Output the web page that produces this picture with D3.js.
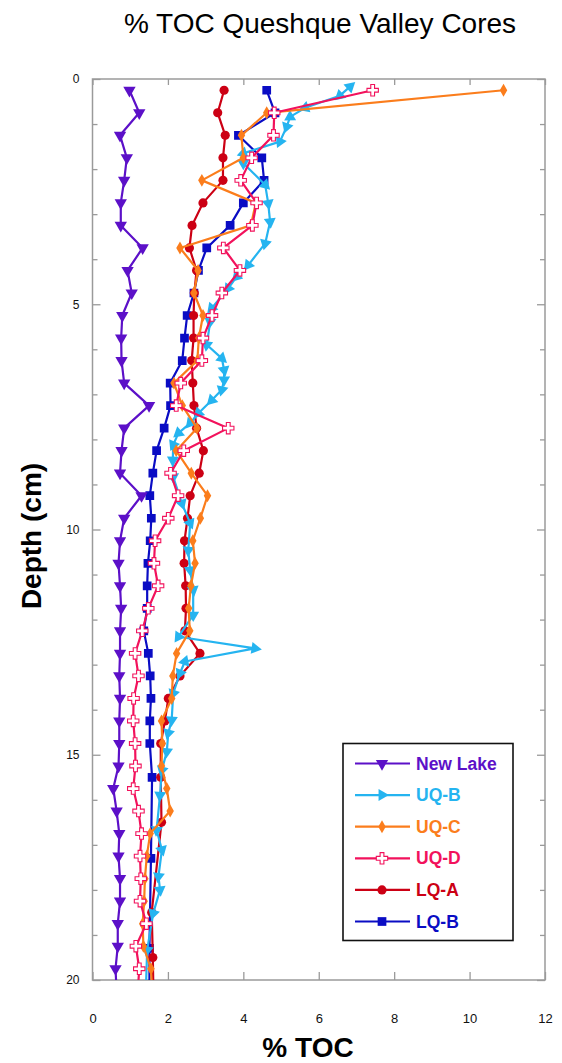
<!DOCTYPE html>
<html>
<head>
<meta charset="utf-8">
<script src="https://cdn.jsdelivr.net/npm/d3@7"></script>
<style>
  html, body { margin: 0; padding: 0; background: #fff; }
  svg { display: block; font-family: "Liberation Sans", Arial, Helvetica, sans-serif; }
</style>
</head>
<body>
<div id="chart"></div>
<script>
// sample depths (cm) shared by most cores, last one sits just below the frame
const gridDepths = [0.25, 0.75, 1.25, 1.75, 2.25, 2.75, 3.25, 3.75, 4.25, 4.75,
  5.25, 5.75, 6.25, 6.75, 7.25, 7.75, 8.25, 8.75, 9.25, 9.75,
  10.25, 10.75, 11.25, 11.75, 12.25, 12.75, 13.25, 13.75, 14.25, 14.75,
  15.25, 15.75, 16.25, 16.75, 17.25, 17.75, 18.25, 18.75, 19.25, 19.75, 20.25];

const newLakeToc = [0.98, 1.24, 0.73, 0.91, 0.84, 0.75, 0.75, 1.33, 0.93, 1.04,
  0.79, 0.76, 0.77, 0.84, 1.50, 0.84, 0.77, 0.73, 1.30, 0.84,
  0.73, 0.69, 0.73, 0.76, 0.73, 0.73, 0.71, 0.73, 0.71, 0.71,
  0.69, 0.55, 0.64, 0.71, 0.69, 0.73, 0.73, 0.67, 0.67, 0.61, 0.64];

const uqCToc = [10.9, 4.62, 3.95, 4.0, 2.90, 4.33, 4.2, 2.32, 2.80, 2.69,
  2.93, 2.82, 2.78, 2.16, 2.38, 2.77, 2.22, 2.62, 3.05, 2.86,
  2.66, 2.72, 2.61, 2.55, 2.58, 2.23, 2.13, 2.10, 1.83, 1.85,
  1.83, 1.97, 2.06, 1.53, 1.44, 1.39, 1.37, 1.33, 1.35, 1.55, 1.58];

const uqDToc = [7.43, 4.82, 4.80, 4.22, 3.93, 4.35, 4.24, 3.47, 3.91, 3.43,
  3.17, 2.93, 2.90, 2.34, 2.22, 3.60, 2.42, 2.07, 2.27, 2.01,
  1.66, 1.63, 1.74, 1.48, 1.32, 1.13, 1.22, 1.09, 1.08, 1.13,
  1.14, 1.08, 1.22, 1.30, 1.26, 1.28, 1.26, 1.43, 1.15, 1.24, 1.20];

const lqADepths = gridDepths.slice(0, 30).concat([15.5, 16.5, 18.5, 19.5, 20.5]);
const lqAToc = [3.49, 3.32, 3.52, 3.46, 3.46, 2.93, 2.64, 2.57, 2.76, 2.70,
  2.68, 2.68, 2.63, 2.66, 2.69, 2.76, 2.94, 2.83, 2.59, 2.52,
  2.44, 2.43, 2.47, 2.48, 2.45, 2.85, 2.32, 2.01, 1.92, 1.81,
  1.81, 1.83, 1.57, 1.60, 1.62];

const lqBDepths = gridDepths.slice(0, 30).concat([15.5, 17.3, 19.3, 20.5]);
const lqBToc = [4.62, 4.84, 3.87, 4.49, 4.55, 4.0, 3.65, 3.03, 2.81, 2.69,
  2.51, 2.44, 2.38, 2.06, 2.07, 1.90, 1.70, 1.60, 1.52, 1.56,
  1.53, 1.47, 1.45, 1.45, 1.36, 1.48, 1.53, 1.55, 1.52, 1.52,
  1.58, 1.55, 1.51, 1.51];

const uqBDepths = [0.17, 0.37, 0.64, 0.84, 1.06, 1.39, 1.65, 1.87, 2.35, 2.76,
  3.17, 3.65, 4.13, 4.39, 4.65, 5.09, 5.39, 5.9, 6.2, 6.46,
  6.68, 6.9, 7.13, 7.42, 7.64, 7.86, 8.12, 8.46, 8.83, 9.42,
  9.86, 10.46, 10.9, 11.34, 11.9, 12.38, 12.64, 12.93, 13.19, 13.64,
  14.23, 14.52, 14.93, 15.34, 15.9, 16.67, 17.11, 17.7, 18.0, 18.52, 19.33, 20.1];
const uqBToc = [6.83, 6.56, 5.64, 5.24, 5.15, 4.97, 4.0, 4.0, 4.58, 4.66,
  4.71, 4.58, 4.13, 3.82, 3.6, 3.16, 3.12, 3.03, 3.43, 3.49,
  3.49, 3.43, 3.16, 2.81, 2.59, 2.28, 2.14, 2.13, 2.14, 2.37,
  2.59, 2.54, 2.59, 2.67, 2.67, 2.28, 4.31, 2.45, 2.32, 2.14,
  2.1, 2.01, 1.97, 1.84, 1.79, 1.7, 1.84, 1.75, 1.79, 1.61, 1.45, 1.42];

const xTicks = [0, 2, 4, 6, 8, 10, 12];
const yTicks = [0, 5, 10, 15, 20];

const zip = (depths, toc) => depths.map((d, i) => ({ depth: d, toc: toc[i] }));

// drawn bottom to top
const series = [
  { name: 'LQ-B', color: '#0a0cc4', shape: 'square', values: zip(lqBDepths, lqBToc) },
  { name: 'LQ-A', color: '#cc0014', shape: 'circle', values: zip(lqADepths, lqAToc) },
  { name: 'UQ-B', color: '#25b4f0', shape: 'arrow', values: zip(uqBDepths, uqBToc) },
  { name: 'UQ-C', color: '#fb7d1c', shape: 'diamond', values: zip(gridDepths, uqCToc) },
  { name: 'UQ-D', color: '#f2125c', shape: 'cross', values: zip(gridDepths, uqDToc) },
  { name: 'New Lake', color: '#5c10c8', shape: 'down', values: zip(gridDepths, newLakeToc) },
];
const legendOrder = ['New Lake', 'UQ-B', 'UQ-C', 'UQ-D', 'LQ-A', 'LQ-B'];

const width = 562;
const height = 1063;
const margin = { top: 79, right: 17, bottom: 83, left: 92.5 };

const xScale = d3.scaleLinear().domain([0, 12]).range([margin.left, width - margin.right]);
const yScale = d3.scaleLinear().domain([0, 20]).range([margin.top, height - margin.bottom]);

const svg = d3.select('#chart').append('svg')
  .attr('width', width)
  .attr('height', height);

svg.append('defs').append('clipPath').attr('id', 'plot-clip')
  .append('rect')
  .attr('x', xScale(0)).attr('y', yScale(0))
  .attr('width', xScale(12) - xScale(0))
  .attr('height', yScale(20) - yScale(0));

// title and axis labels
svg.append('text')
  .attr('x', 320).attr('y', 33)
  .attr('text-anchor', 'middle')
  .attr('font-size', 28)
  .text('% TOC Queshque Valley Cores');

svg.append('text')
  .attr('x', 308).attr('y', 1057)
  .attr('text-anchor', 'middle')
  .attr('font-size', 28).attr('font-weight', 'bold')
  .text('% TOC');

svg.append('text')
  .attr('transform', 'translate(41,536) rotate(-90)')
  .attr('text-anchor', 'middle')
  .attr('font-size', 28).attr('font-weight', 'bold')
  .text('Depth (cm)');

// axes, ticks point inward
const gridColor = '#9a9a9a';
const styleAxis = (g) => {
  g.select('.domain').remove();
  g.selectAll('.tick line').attr('stroke', gridColor).attr('stroke-width', 1.3);
  g.selectAll('.tick text').attr('fill', '#111').attr('font-family', '"Liberation Sans", Arial, sans-serif');
};

svg.append('g')
  .attr('transform', `translate(0,${yScale(20)})`)
  .call(d3.axisBottom(xScale).tickValues(xTicks).tickSize(-8).tickPadding(34).tickFormat(d3.format('d')))
  .call(styleAxis)
  .selectAll('text').attr('font-size', 13);

svg.append('g')
  .attr('transform', `translate(0,${yScale(0)})`)
  .call(d3.axisTop(xScale).tickValues(xTicks).tickSize(-6).tickFormat(''))
  .call(styleAxis);

const minorDepths = d3.range(1, 20).filter((d) => d % 5 !== 0);

svg.append('g')
  .attr('transform', `translate(${xScale(0)},0)`)
  .call(d3.axisLeft(yScale).tickValues(yTicks).tickSize(-8).tickPadding(13).tickFormat(d3.format('d')))
  .call(styleAxis)
  .selectAll('text').attr('font-size', 12);

svg.append('g')
  .attr('transform', `translate(${xScale(0)},0)`)
  .call(d3.axisLeft(yScale).tickValues(minorDepths).tickSize(-5).tickFormat(''))
  .call(styleAxis);

svg.append('g')
  .attr('transform', `translate(${xScale(12)},0)`)
  .call(d3.axisRight(yScale).tickValues(yTicks).tickSize(-8).tickFormat(''))
  .call(styleAxis);

svg.append('g')
  .attr('transform', `translate(${xScale(12)},0)`)
  .call(d3.axisRight(yScale).tickValues(minorDepths).tickSize(-5).tickFormat(''))
  .call(styleAxis);

svg.append('rect')
  .attr('x', xScale(0)).attr('y', yScale(0))
  .attr('width', xScale(12) - xScale(0))
  .attr('height', yScale(20) - yScale(0))
  .attr('fill', 'none')
  .attr('stroke', gridColor)
  .attr('stroke-width', 1.5);

// markers
const symbolFor = {
  square: d3.symbol().type(d3.symbolSquare).size(76),
  circle: d3.symbol().type(d3.symbolCircle).size(66),
  arrow: d3.symbol().type(d3.symbolTriangle).size(62),
  diamond: d3.symbol().type(d3.symbolDiamond).size(48),
  cross: d3.symbol().type(d3.symbolCross).size(72),
  down: d3.symbol().type(d3.symbolTriangle).size(66),
};

function drawMarker(sel, s, x, y, angle) {
  const path = sel.append('path')
    .attr('d', symbolFor[s.shape]())
    .attr('transform', `translate(${x},${y}) rotate(${angle})`);
  if (s.shape === 'cross') {
    path.attr('fill', '#fff').attr('stroke', s.color).attr('stroke-width', 1.1);
  } else {
    path.attr('fill', s.color);
  }
  return path;
}

const line = d3.line()
  .x((d) => xScale(d.toc))
  .y((d) => yScale(d.depth));

const plot = svg.append('g').attr('clip-path', 'url(#plot-clip)');

series.forEach((s) => {
  const g = plot.append('g');
  g.append('path')
    .datum(s.values)
    .attr('d', line)
    .attr('fill', 'none')
    .attr('stroke', s.color)
    .attr('stroke-width', 2.2)
    .attr('stroke-linejoin', 'round');

  s.values.forEach((d, i) => {
    const x = xScale(d.toc);
    const y = yScale(d.depth);
    let angle = 0;
    if (s.shape === 'down') angle = 180;
    if (s.shape === 'arrow') {
      // the cyan triangles point along the line
      const a = i > 0 ? s.values[i - 1] : s.values[1];
      const dx = i > 0 ? x - xScale(a.toc) : xScale(a.toc) - x;
      const dy = i > 0 ? y - yScale(a.depth) : yScale(a.depth) - y;
      angle = (Math.atan2(dy, dx) * 180) / Math.PI + 90;
      if (i === 0) angle += 180;
    }
    drawMarker(g, s, x, y, angle);
  });
});

// legend
const legend = svg.append('g');
legend.append('rect')
  .attr('x', 343).attr('y', 743.5)
  .attr('width', 170).attr('height', 197)
  .attr('fill', '#fff')
  .attr('stroke', '#111')
  .attr('stroke-width', 1.6);

legendOrder.forEach((name, i) => {
  const s = series.find((d) => d.name === name);
  const y = 763.5 + i * 31.6;
  legend.append('line')
    .attr('x1', 355).attr('x2', 410)
    .attr('y1', y).attr('y2', y)
    .attr('stroke', s.color).attr('stroke-width', 2.2);
  drawMarker(legend, s, 382, y, s.shape === 'down' ? 180 : s.shape === 'arrow' ? 90 : 0);
  legend.append('text')
    .attr('x', 416).attr('y', y + 6)
    .attr('font-size', 17.5).attr('font-weight', 'bold')
    .attr('fill', s.color)
    .text(name);
});
</script>
</body>
</html>
